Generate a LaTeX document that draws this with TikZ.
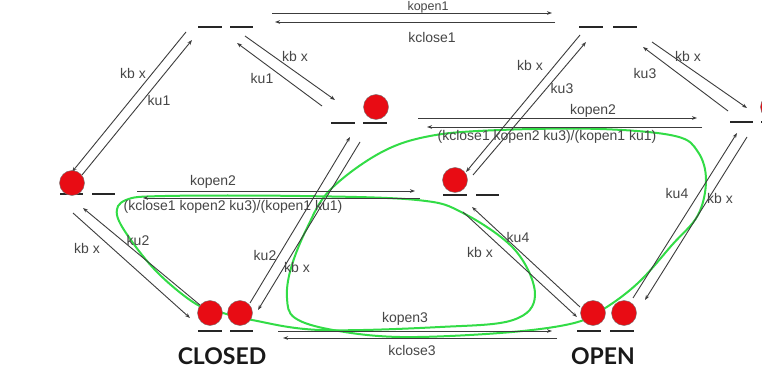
\documentclass[tikz,border=0pt]{standalone}
\usepackage{fontspec}
\setmainfont{Liberation Sans}
\newfontfamily\latofont{Lato}
\usetikzlibrary{arrows.meta}
\definecolor{ballred}{RGB}{232,12,20}
\definecolor{loopgreen}{RGB}{50,220,70}
\definecolor{arrgray}{RGB}{60,60,60}
\definecolor{txtgray}{RGB}{70,70,70}
\tikzset{
  arr/.style={draw=arrgray, line width=0.9pt, -{Stealth[length=5pt,width=3.6pt]}},
  ball/.style={circle, fill=ballred, draw=black!55, line width=0.4pt, minimum size=25pt, inner sep=0pt},
  slot/.style={rectangle, fill=black!85, minimum width=23.5pt, minimum height=2.8pt, inner sep=0pt},
  lbl/.style={text=txtgray, font=\fontsize{14}{16}\selectfont, inner sep=0pt},
  big/.style={text=black!90, font=\latofont\bfseries\fontsize{23}{26}\selectfont, inner sep=0pt},
  greenloop/.style={draw=loopgreen, line width=2pt},
}
\begin{document}
\begin{tikzpicture}[x=1pt,y=-1pt]
\useasboundingbox (0,0) rectangle (762,379);
\clip (0,0) rectangle (762,379);
\fill[white] (0,0) rectangle (762,379);

% green loops
\draw[greenloop] plot[smooth cycle, tension=0.6] coordinates {(223,313) (196,304) (160,275) (133,243) (117,215) (126,200) (165,196) (300,196) (417,200) (463,213) (515,250) (535,295) (513,320) (440,327) (320,330) (252,320)};
\draw[greenloop] plot[smooth cycle, tension=0.6] coordinates {(295,318) (287,298) (291,268) (307,228) (330,190) (380,153) (430,136) (500,130) (600,129) (675,136) (698,152) (706,180) (698,215) (672,245) (638,283) (602,310) (570,324) (500,333) (400,337) (333,330)};

% arrow end points
\coordinate (a1s) at (272,13);  \coordinate (a1e) at (552,13);
\coordinate (a2s) at (555,22);  \coordinate (a2e) at (275,22);
\coordinate (b1s) at (186,32);  \coordinate (b1e) at (72,172);
\coordinate (b2s) at (82,175);  \coordinate (b2e) at (192,40);
\coordinate (c1s) at (245,36);  \coordinate (c1e) at (335,100);
\coordinate (c2s) at (322,106); \coordinate (c2e) at (237,43);
\coordinate (d1s) at (580,35);  \coordinate (d1e) at (466,172);
\coordinate (d2s) at (473,175); \coordinate (d2e) at (586,42);
\coordinate (e1s) at (652,42);  \coordinate (e1e) at (747,108);
\coordinate (e2s) at (728,111); \coordinate (e2e) at (643,47);
\coordinate (f1s) at (418,118); \coordinate (f1e) at (697,118);
\coordinate (f2s) at (702,127); \coordinate (f2e) at (427,127);
\coordinate (g1s) at (137,191); \coordinate (g1e) at (415,191);
\coordinate (g2s) at (420,198); \coordinate (g2e) at (143,198);
\coordinate (h1s) at (200,305); \coordinate (h1e) at (83,208);
\coordinate (h2s) at (73,213);  \coordinate (h2e) at (190,318);
\coordinate (i1s) at (250,303); \coordinate (i1e) at (350,137);
\coordinate (i2s) at (360,142); \coordinate (i2e) at (258,310);
\coordinate (j1s) at (463,212); \coordinate (j1e) at (577,317);
\coordinate (j2s) at (580,307); \coordinate (j2e) at (472,207);
\coordinate (k1s) at (633,298); \coordinate (k1e) at (737,133);
\coordinate (k2s) at (747,137); \coordinate (k2e) at (645,300);
\coordinate (m1s) at (278,331); \coordinate (m1e) at (552,331);
\coordinate (m2s) at (557,338); \coordinate (m2e) at (283,338);

\foreach \p in {a1,a2,b1,b2,c1,c2,d1,d2,e1,e2,f1,f2,g1,g2,h1,h2,i1,i2,j1,j2,k1,k2,m1,m2}
  \draw[arr] (\p s) -- (\p e);

% state slots
\node[slot] (tl1) at (210,27) {};   \node[slot] (tl2) at (241.5,27) {};
\node[slot] (tr1) at (591,27) {};   \node[slot] (tr2) at (625,27) {};
\node[slot] (ml1) at (343,123) {};  \node[slot] (ml2) at (375,123) {};
\node[slot] (r1)  at (741.5,122) {};\node[slot] (r2)  at (773,122) {};
\node[slot] (lf1) at (71.5,194) {}; \node[slot] (lf2) at (103.5,194) {};
\node[slot] (c1)  at (455,195) {};  \node[slot] (c2)  at (487.5,195) {};
\node[slot] (cl1) at (210,331) {};  \node[slot] (cl2) at (241.5,331) {};
\node[slot] (op1) at (589,331) {};  \node[slot] (op2) at (622,331) {};

% balls
\node[ball] (bml) at (376,107) {};
\node[ball] (br)  at (773,107) {};
\node[ball] (blf) at (72,183) {};
\node[ball] (bc)  at (455,180) {};
\node[ball] (bcl1) at (210,313) {};
\node[ball] (bcl2) at (240,313) {};
\node[ball] (bop1) at (593,313) {};
\node[ball] (bop2) at (624,313) {};

% labels
\node[lbl,anchor=base,font=\fontsize{12.5}{14}\selectfont] (t1) at (428,10.5) {kopen1};
\node[lbl] (t2) at (432,37) {kclose1};
\node[lbl] (t3) at (133,73) {kb x};
\node[lbl] (t4) at (159,100) {ku1};
\node[lbl] (t5) at (295,56) {kb x};
\node[lbl] (t6) at (262,78) {ku1};
\node[lbl] (t7) at (530,65) {kb x};
\node[lbl] (t8) at (562,88) {ku3};
\node[lbl] (t9) at (688,56) {kb x};
\node[lbl] (t10) at (645,73) {ku3};
\node[lbl] (t11) at (593,111) {kopen2};
\node[lbl] (t12) at (547,137) {(kclose1 kopen2 ku3)/(kopen1 ku1)};
\node[lbl] (t13) at (213,182) {kopen2};
\node[lbl] (t14) at (233,207) {(kclose1 kopen2 ku3)/(kopen1 ku1)};
\node[lbl] (t15) at (87,248) {kb x};
\node[lbl] (t16) at (138,240) {ku2};
\node[lbl] (t17) at (265,255) {ku2};
\node[lbl] (t18) at (297,267) {kb x};
\node[lbl] (t19) at (518,237) {ku4};
\node[lbl] (t20) at (480,252) {kb x};
\node[lbl] (t21) at (677,193) {ku4};
\node[lbl] (t22) at (720,198) {kb x};
\node[lbl] (t23) at (405,319) {kopen3};
\node[lbl] (t24) at (412,350) {kclose3};
\node[big] (closed) at (222,356) {CLOSED};
\node[big] (open) at (603,356) {OPEN};
\end{tikzpicture}
\end{document}
